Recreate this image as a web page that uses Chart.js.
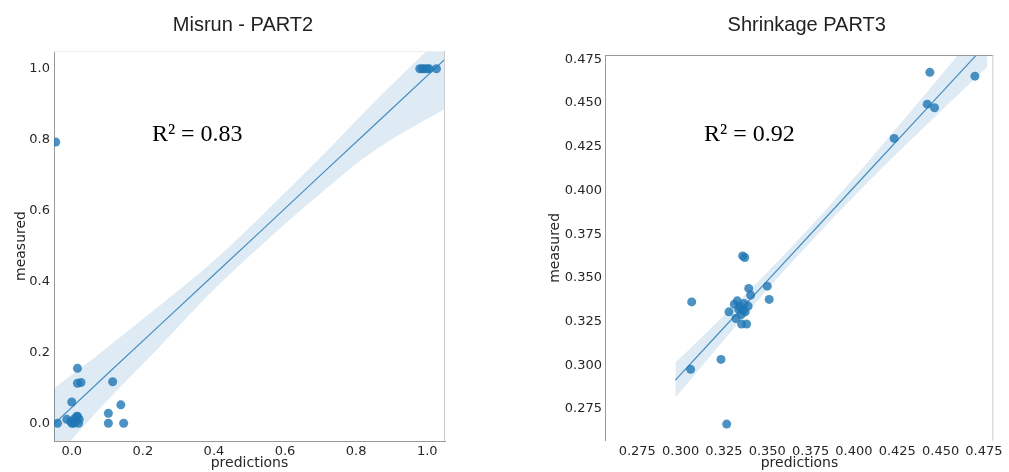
<!DOCTYPE html>
<html>
<head>
<meta charset="utf-8">
<script src="https://cdn.jsdelivr.net/npm/chart.js@4/dist/chart.umd.min.js"></script>
<style>
  html, body { margin: 0; padding: 0; background: #fff; overflow: hidden; }
  #misrun { position: absolute; left: 0; top: 0; }
  #shrink { position: absolute; left: 520px; top: 0; }
</style>
</head>
<body>
<canvas id="misrun" width="460" height="472"></canvas>
<canvas id="shrink" width="500" height="472"></canvas>
<script>
// ---- Misrun - PART2 ----
var misrunPred = [-0.04, -0.045, 0.0, 0.016, 0.016, 0.026, 0.115, 0.103, 0.103, 0.138, 0.146,
    -0.014, -0.003, 0.005, 0.014, 0.021, 0.0, 0.01, 0.019, 0.007, 0.016,
    0.979, 0.986, 0.992, 1.0, 1.005, 1.026];
var misrunMeas = [0.0, 0.793, 0.06, 0.155, 0.113, 0.115, 0.117, 0.028, 0.0, 0.052, 0.0,
    0.011, 0.005, 0.0, 0.019, 0.011, 0.0, 0.005, 0.0, 0.012, 0.02,
    1.0, 1.0, 1.0, 1.0, 1.0, 1.0];
var misrunBandX  = [-0.05, 0.1, 0.25, 0.4, 0.55, 0.7, 0.85, 1.05];
var misrunFit    = [-0.002, 0.139, 0.279, 0.419, 0.559, 0.700, 0.840, 1.027];
var misrunLow    = [-0.102, 0.064, 0.219, 0.377, 0.517, 0.648, 0.768, 0.887];
var misrunHigh   = [0.098, 0.214, 0.334, 0.459, 0.601, 0.750, 0.905, 1.100];
var misrunTicks  = [0.0, 0.2, 0.4, 0.6, 0.8, 1.0];

// ---- Shrinkage PART3 ----
var shrinkPred = [0.3064, 0.3058, 0.3233, 0.3266, 0.3279, 0.3319, 0.3310, 0.3327, 0.3342, 0.3365,
    0.3390, 0.3373, 0.3352, 0.3381, 0.3358, 0.3370, 0.3393, 0.3404, 0.3500, 0.3511,
    0.3335, 0.3350, 0.3362, 0.4232, 0.4423, 0.4465, 0.4438, 0.4698];
var shrinkMeas = [0.3363, 0.2977, 0.3034, 0.2664, 0.3306, 0.3268, 0.3350, 0.3369, 0.3335, 0.3354,
    0.3339, 0.3306, 0.3236, 0.3236, 0.3626, 0.3617, 0.3440, 0.3402, 0.3453, 0.3377,
    0.3320, 0.3290, 0.3315, 0.4298, 0.4494, 0.4473, 0.4676, 0.4654];
var shrinkBandX = [0.297, 0.32, 0.35, 0.38, 0.41, 0.44, 0.477];
var shrinkFit   = [0.2915, 0.3162, 0.3483, 0.3804, 0.4126, 0.4447, 0.4843];
var shrinkLow   = [0.2815, 0.3087, 0.3433, 0.3759, 0.4066, 0.4357, 0.4708];
var shrinkHigh  = [0.3015, 0.3237, 0.3533, 0.3849, 0.4186, 0.4537, 0.4978];
var shrinkTicks = [0.275, 0.300, 0.325, 0.350, 0.375, 0.400, 0.425, 0.450, 0.475];

var lineBlue = 'rgba(31,119,180,0.8)',
    dotBlue = 'rgba(31,119,180,0.8)',
    bandBlue = 'rgba(31,119,180,0.15)',
    tickFont = { family: 'DejaVu Sans', size: 13 },
    axisFont = { family: 'DejaVu Sans', size: 14 };

function pts(xs, ys) {
    return xs.map(function (x, i) { return { x: x, y: ys[i] }; });
}

function fixedTicks(values) {
    return function (scale) {
        scale.ticks = values.map(function (v) { return { value: v }; });
    };
}

// title (placed by hand), top / right spines and the R^2 note
var extrasPlugin = {
    id: 'extras',
    afterDatasetsDraw: function (chart, args, opts) {
        var ctx = chart.ctx, a = chart.chartArea;
        ctx.save();
        ctx.lineWidth = 1;
        ctx.strokeStyle = opts.topColor;
        ctx.beginPath();
        ctx.moveTo(a.left, a.top + 0.5);
        ctx.lineTo(a.right, a.top + 0.5);
        ctx.stroke();
        ctx.strokeStyle = opts.rightColor;
        ctx.beginPath();
        ctx.moveTo(a.right - 0.5, a.top);
        ctx.lineTo(a.right - 0.5, a.bottom);
        ctx.stroke();

        ctx.textAlign = 'center';
        ctx.fillStyle = '#222';
        ctx.font = '20px "Liberation Sans"';
        ctx.textBaseline = 'middle';
        ctx.fillText(opts.title, opts.titleX, 25);

        ctx.fillStyle = '#000';
        ctx.font = '24px "Liberation Serif"';
        ctx.textBaseline = 'alphabetic';
        ctx.fillText(opts.note, chart.scales.x.getPixelForValue(opts.noteX),
            chart.scales.y.getPixelForValue(opts.noteY));
        ctx.restore();
    }
};

function makeConfig(o) {
    return {
        type: 'scatter',
        data: {
            datasets: [{
                data: pts(o.pred, o.meas),
                backgroundColor: dotBlue,
                borderWidth: 0,
                pointRadius: 4.5,
                pointHoverRadius: 4.5,
                order: 0
            }, {
                data: pts(o.bandX, o.high),
                showLine: true,
                tension: 0.4,
                pointRadius: 0,
                borderWidth: 0,
                borderColor: 'rgba(0,0,0,0)',
                backgroundColor: bandBlue,
                fill: '+1',
                order: 2
            }, {
                data: pts(o.bandX, o.low),
                showLine: true,
                tension: 0.4,
                pointRadius: 0,
                borderWidth: 0,
                borderColor: 'rgba(0,0,0,0)',
                fill: false,
                order: 2
            }, {
                data: pts(o.bandX, o.fit),
                showLine: true,
                pointRadius: 0,
                borderWidth: 1.2,
                borderColor: lineBlue,
                fill: false,
                order: 1
            }]
        },
        options: {
            responsive: false,
            animation: false,
            layout: { padding: { left: 0, right: o.padRight, top: o.padTop, bottom: 0 } },
            plugins: {
                legend: { display: false },
                tooltip: { enabled: false },
                title: { display: false },
                extras: {
                    title: o.title,
                    titleX: o.titleX,
                    topColor: o.topColor,
                    rightColor: o.rightColor,
                    note: o.note,
                    noteX: o.noteX,
                    noteY: o.noteY
                }
            },
            scales: {
                x: {
                    type: 'linear',
                    min: o.xMin,
                    max: o.xMax,
                    afterBuildTicks: fixedTicks(o.xTicks),
                    afterFit: function (s) { s.height = o.xHeight; },
                    grid: { display: false, drawTicks: false },
                    border: { display: o.bottomSpine, color: '#999' },
                    ticks: {
                        font: tickFont, color: '#262626', padding: 3, maxRotation: 0,
                        autoSkip: false,
                        callback: function (v) { return v.toFixed(o.digits); }
                    },
                    title: { display: true, text: 'predictions', font: axisFont, color: '#262626',
                        padding: { top: 0, bottom: 0 } }
                },
                y: {
                    type: 'linear',
                    min: o.yMin,
                    max: o.yMax,
                    afterBuildTicks: fixedTicks(o.yTicks),
                    afterFit: function (s) { s.width = o.yWidth; },
                    grid: { display: false, drawTicks: false },
                    border: { display: true, color: '#999' },
                    ticks: {
                        font: tickFont, color: '#262626', padding: o.yPad, autoSkip: false,
                        callback: function (v) { return v.toFixed(o.digits); }
                    },
                    title: { display: true, text: 'measured', font: axisFont, color: '#262626',
                        padding: { top: o.yTitlePad, bottom: 0 } }
                }
            }
        },
        plugins: [extrasPlugin]
    };
}

var misrunConfig = makeConfig({
        title: 'Misrun - PART2', titleX: 243,
        pred: misrunPred, meas: misrunMeas,
        bandX: misrunBandX, fit: misrunFit, low: misrunLow, high: misrunHigh,
        xMin: -0.05, xMax: 1.05, yMin: -0.05, yMax: 1.05,
        xTicks: misrunTicks, yTicks: misrunTicks, digits: 1,
        padRight: 15, padTop: 51, xHeight: 31, yWidth: 54, yPad: 4, yTitlePad: 13.3,
        topColor: '#eeeeee', rightColor: '#cccccc', bottomSpine: true,
        note: 'R\u00b2 = 0.83', noteX: 0.353, noteY: 0.797
    }),
    shrinkConfig = makeConfig({
        title: 'Shrinkage PART3', titleX: 286.7,
        pred: shrinkPred, meas: shrinkMeas,
        bandX: shrinkBandX, fit: shrinkFit, low: shrinkLow, high: shrinkHigh,
        xMin: 0.2568, xMax: 0.4804, yMin: 0.2569, yMax: 0.4775,
        xTicks: shrinkTicks, yTicks: shrinkTicks, digits: 3,
        padRight: 26.7, padTop: 55, xHeight: 31.3, yWidth: 85.7, yPad: 3.7, yTitlePad: 26.6,
        topColor: '#999999', rightColor: '#cccccc', bottomSpine: false,
        note: 'R\u00b2 = 0.92', noteX: 0.3397, noteY: 0.4283
    });

window.onload = function () {
    var misrunCtx = document.getElementById('misrun').getContext('2d');
    window.misrunChart = new Chart(misrunCtx, misrunConfig);

    var shrinkCtx = document.getElementById('shrink').getContext('2d');
    window.shrinkChart = new Chart(shrinkCtx, shrinkConfig);
};
</script>
</body>
</html>
